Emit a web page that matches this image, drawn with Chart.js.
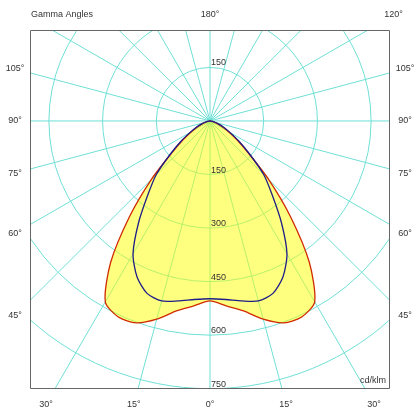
<!DOCTYPE html>
<html>
<head>
<meta charset="utf-8">
<script src="https://cdn.jsdelivr.net/npm/chart.js@4.4.0/dist/chart.umd.min.js"></script>
<style>
  html, body { margin: 0; padding: 0; background: #fff; }
  #wrap { width: 420px; height: 420px; }
</style>
</head>
<body>
<div id="wrap"><canvas id="polarChart"></canvas></div>
<script>
// gamma angles in degrees: negative = left half (C180), positive = right half (C0)
const gammaAngles = [-90, -85, -80, -75, -70, -65, -60, -55, -50, -45, -40, -35, -30, -25, -20, -15, -10, -5,
  0, 5, 10, 15, 20, 25, 30, 35, 40, 45, 50, 55, 60, 65, 70, 75, 80, 85, 90];

// intensities in cd/klm
const planeC0C180 = [0, 2, 6, 12, 22, 38, 58, 92, 140, 232, 350, 484, 585, 606, 602, 575, 540, 520,
  504, 520, 540, 575, 602, 606, 585, 484, 350, 232, 140, 92, 58, 38, 22, 12, 6, 2, 0];
const planeC90C270 = [0, 3, 7, 14, 26, 42, 64, 98, 145, 212, 270, 348, 430, 482, 514, 522, 512, 502,
  498, 502, 512, 522, 514, 482, 430, 348, 270, 212, 145, 98, 64, 42, 26, 14, 7, 3, 0];

// grid
const ringValues = [150, 300, 450, 600, 750];
const ringLabelsBelow = ["150", "300", "450", "600", "750"];
const ringLabelsAbove = ["150"];
const spokeStep = 15;
// labelled gamma rays (signed), text shows the absolute value
const labelledAngles = [-105, -90, -75, -60, -45, -30, -15, 0, 15, 30, 45, 60, 75, 90, 105, 120, 180];

const gridColor = "#6fe0d6";
const textColor = "#333";
const font = '9px "Liberation Sans", Arial, sans-serif';

function toXY(values) {
  return gammaAngles.map((g, i) => {
    const rad = g * Math.PI / 180;
    return { x: values[i] * Math.sin(rad), y: -values[i] * Math.cos(rad) };
  });
}

const polarGrid = {
  id: "polarGrid",
  beforeDatasetsDraw(chart) {
    const { ctx, chartArea: area } = chart;
    const xs = chart.scales.x, ys = chart.scales.y;
    const cx = xs.getPixelForValue(0), cy = ys.getPixelForValue(0);
    ctx.save();
    ctx.beginPath();
    ctx.rect(area.left, area.top, area.right - area.left, area.bottom - area.top);
    ctx.clip();
    ctx.strokeStyle = gridColor;
    ctx.lineWidth = 1;
    ringValues.forEach((r) => {
      const rx = xs.getPixelForValue(r) - cx;
      const ry = ys.getPixelForValue(-r) - cy;
      ctx.beginPath();
      ctx.ellipse(cx, cy, rx, ry, 0, 0, Math.PI * 2);
      ctx.stroke();
    });
    // spokes every 15 degrees, long enough to leave the plot
    for (let a = 0; a < 360; a += spokeStep) {
      const rad = a * Math.PI / 180;
      ctx.beginPath();
      ctx.moveTo(cx, cy);
      ctx.lineTo(xs.getPixelForValue(1800 * Math.sin(rad)), ys.getPixelForValue(-1800 * Math.cos(rad)));
      ctx.stroke();
    }
    ctx.beginPath();
    ctx.restore();
  },
  afterDatasetsDraw(chart) {
    const { ctx, chartArea: area } = chart;
    const xs = chart.scales.x, ys = chart.scales.y;
    const cx = xs.getPixelForValue(0), cy = ys.getPixelForValue(0);
    ctx.save();
    // frame
    ctx.strokeStyle = "#666";
    ctx.lineWidth = 1;
    ctx.beginPath();
    ctx.rect(area.left - 0.5, area.top - 0.5, area.right - area.left + 1, area.bottom - area.top + 1);
    ctx.stroke();

    ctx.font = font;
    ctx.fillStyle = textColor;

    // ring values along the vertical axis
    ctx.textAlign = "left";
    ctx.textBaseline = "alphabetic";
    ringLabelsBelow.forEach((t, i) => {
      ctx.fillText(t, cx + 1, ys.getPixelForValue(-ringValues[i]) - 2);
    });
    ringLabelsAbove.forEach((t, i) => {
      ctx.fillText(t, cx + 1, ys.getPixelForValue(ringValues[i]) - 2);
    });

    // gamma labels where the rays meet a frame 16px outside the plot
    const L = area.left - 16, R = area.right + 16, T = area.top - 16, B = area.bottom + 17;
    ctx.textAlign = "center";
    ctx.textBaseline = "middle";
    labelledAngles.forEach((g) => {
      const rad = g * Math.PI / 180;
      const dx = Math.sin(rad), dy = Math.cos(rad);
      let t = Infinity;
      if (dx > 1e-9) t = Math.min(t, (R - cx) / dx);
      if (dx < -1e-9) t = Math.min(t, (L - cx) / dx);
      if (dy > 1e-9) t = Math.min(t, (B - cy) / dy);
      if (dy < -1e-9) t = Math.min(t, (T - cy) / dy);
      ctx.fillText(Math.abs(g) + "\u00B0", cx + t * dx, cy + t * dy);
    });

    ctx.textAlign = "left";
    ctx.fillText("Gamma Angles", area.left, area.top - 16);
    ctx.textAlign = "right";
    ctx.fillText("cd/klm", area.right - 3, area.bottom - 7);
    ctx.restore();
  },
};

new Chart(document.getElementById("polarChart"), {
  type: "scatter",
  data: {
    datasets: [
      {
        label: "C0-C180",
        data: toXY(planeC0C180),
        showLine: true,
        borderColor: "#d02a00",
        borderWidth: 1.3,
        backgroundColor: "rgba(255,255,0,0.5)",
        fill: "shape",
        tension: 0.25,
        pointRadius: 0,
        order: 2,
      },
      {
        label: "C90-C270",
        data: toXY(planeC90C270),
        showLine: true,
        borderColor: "#1e1e88",
        borderWidth: 1.3,
        fill: false,
        tension: 0.25,
        pointRadius: 0,
        order: 1,
      },
    ],
  },
  options: {
    responsive: true,
    maintainAspectRatio: false,
    animation: false,
    layout: { padding: { left: 31, right: 31, top: 31, bottom: 32 } },
    scales: {
      x: { type: "linear", min: -500, max: 500, display: false },
      y: { type: "linear", min: -748, max: 252, display: false },
    },
    plugins: {
      legend: { display: false },
      tooltip: { enabled: false },
    },
  },
  plugins: [polarGrid],
});
</script>
</body>
</html>
